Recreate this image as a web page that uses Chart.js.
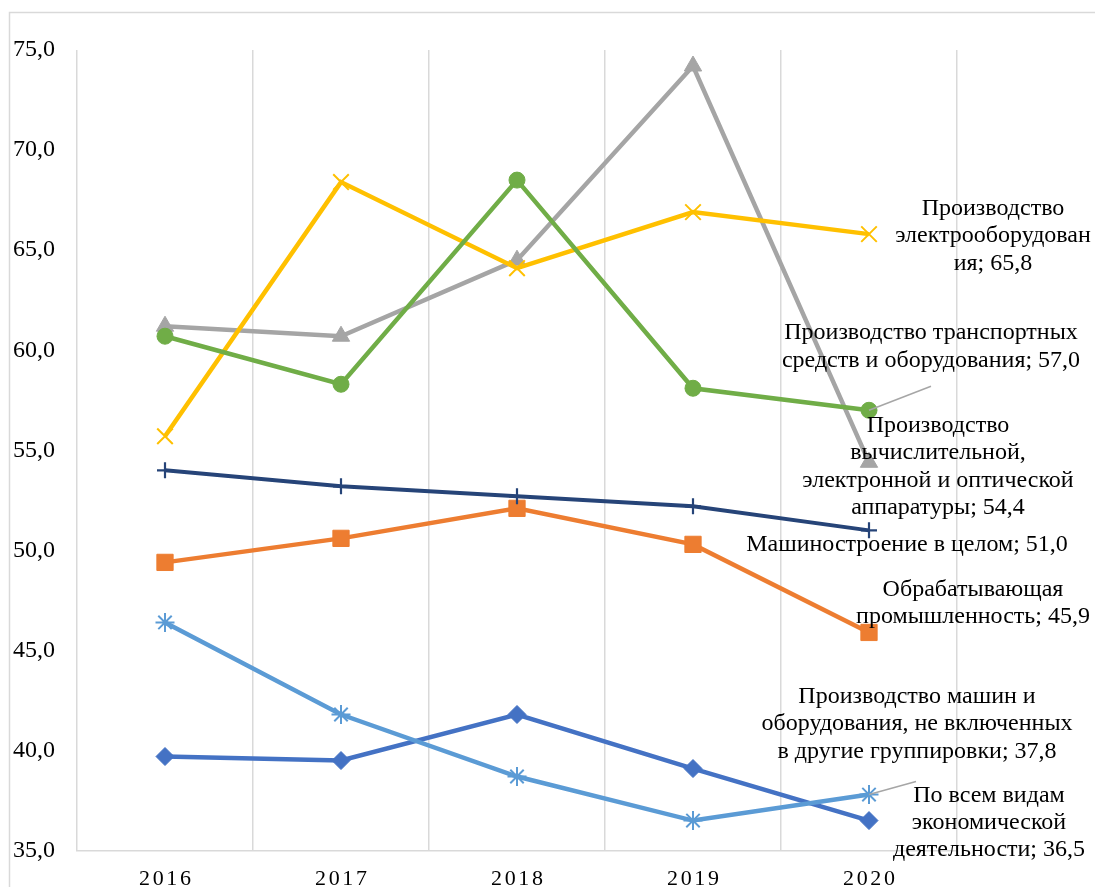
<!DOCTYPE html>
<html>
<head>
<meta charset="utf-8">
<script src="https://cdn.jsdelivr.net/npm/chart.js@4/dist/chart.umd.min.js"></script>
<style>
  html, body { margin: 0; padding: 0; background: #ffffff; }
  #wrap { width: 1095px; height: 887px; }
</style>
</head>
<body>
<div id="wrap"><canvas id="c" width="1095" height="887"></canvas></div>
<script>
// ---- data ----
const categories = ['2016', '2017', '2018', '2019', '2020'];

const seriesNames = [
  'По всем видам экономической деятельности',
  'Обрабатывающая промышленность',
  'Производство вычислительной, электронной и оптической аппаратуры',
  'Производство электрооборудования',
  'Производство машин и оборудования, не включенных в другие группировки',
  'Производство транспортных средств и оборудования',
  'Машиностроение в целом'
];

const allActivities   = [39.7, 39.5, 41.8, 39.1, 36.5];
const manufacturing   = [49.4, 50.6, 52.1, 50.3, 45.9];
const computers       = [61.2, 60.7, 64.5, 74.2, 54.4];
const electrical      = [55.7, 68.4, 64.1, 66.9, 65.8];
const machinery       = [46.4, 41.8, 38.7, 36.5, 37.8];
const transport       = [60.7, 58.3, 68.5, 58.1, 57.0];
const engineering     = [54.0, 53.2, 52.7, 52.2, 51.0];

// wrapped label pieces (as in the original data labels)
const labelWraps = [
  ['По всем видам', 'экономической', 'деятельности'],
  ['Обрабатывающая', 'промышленность'],
  ['Производство', 'вычислительной,', 'электронной и оптической', 'аппаратуры'],
  ['Производство', 'электрооборудован', 'ия'],
  ['Производство машин и', 'оборудования, не включенных', 'в другие группировки'],
  ['Производство транспортных', 'средств и оборудования'],
  ['Машиностроение в целом']
];

const yMin = 35, yMax = 75, yStep = 5;

// ---- styles ----
const seriesData = [allActivities, manufacturing, computers, electrical, machinery, transport, engineering];
const colors = ['#4472C4', '#ED7D31', '#A5A5A5', '#FFC000', '#5B9BD5', '#70AD47', '#264478'];
const pointStyles = ['rectRot', 'rect', 'triangle', 'crossRot', 'star', 'circle', 'cross'];
const pointRadii = [9, 11.5, 10, 11, 9.5, 8, 8];
const pointBorders = [1, 1, 1, 2, 2, 1, 2.2];
const lineWidths = [4.5, 4.5, 4.5, 4.5, 4.5, 4.5, 4];
// label block centre offset from last point, in px
const labelOffsets = [[120, 2], [104, -29.5], [69, 4.5], [124, 2], [48, -70.5], [62, -63.5], [38, 14]];
// leader line end offsets (null = none)
const leaderOffsets = [null, null, null, null, [47, -13], [62, -24], null];

const fmt = v => v.toFixed(1).replace('.', ',');
const SERIF = '"Liberation Serif", "Times New Roman", serif';

const datasets = seriesData.map((d, i) => ({
  label: seriesNames[i],
  data: d,
  borderColor: colors[i],
  backgroundColor: colors[i],
  borderWidth: lineWidths[i],
  pointStyle: pointStyles[i],
  pointRadius: pointRadii[i],
  pointHoverRadius: pointRadii[i],
  pointBorderWidth: pointBorders[i],
  pointBackgroundColor: colors[i],
  pointBorderColor: colors[i],
  tension: 0,
  order: seriesData.length - 1 - i
}));

const framePlugin = {
  id: 'frame',
  beforeDraw(chart) {
    const ctx = chart.ctx;
    ctx.save();
    ctx.fillStyle = '#ffffff';
    ctx.fillRect(0, 0, chart.width, chart.height);
    ctx.strokeStyle = '#d9d9d9';
    ctx.lineWidth = 1.5;
    ctx.strokeRect(9.5, 12.5, chart.width + 20, chart.height + 20);
    ctx.restore();
  }
};

const xLabelsPlugin = {
  id: 'xLabels',
  afterDraw(chart) {
    const ctx = chart.ctx;
    const xs = chart.scales.x;
    const ls = 2.7;
    ctx.save();
    ctx.font = '22px ' + SERIF;
    ctx.fillStyle = '#000000';
    ctx.textAlign = 'center';
    ctx.textBaseline = 'middle';
    if ('letterSpacing' in ctx) ctx.letterSpacing = ls + 'px';
    categories.forEach((c, i) => {
      const x = xs.getPixelForValue(i);
      ctx.fillText(c, x + ls / 2, 879);
    });
    ctx.restore();
  }
};

const dataLabelPlugin = {
  id: 'dataLabels',
  afterDatasetsDraw(chart) {
    const ctx = chart.ctx;
    ctx.save();
    chart.data.datasets.forEach((ds, i) => {
      const meta = chart.getDatasetMeta(i);
      const last = meta.data[meta.data.length - 1];
      const px = last.x, py = last.y;
      const lead = leaderOffsets[i];
      if (lead) {
        ctx.strokeStyle = '#a6a6a6';
        ctx.lineWidth = 1.5;
        ctx.beginPath();
        ctx.moveTo(px, py);
        ctx.lineTo(px + lead[0], py + lead[1]);
        ctx.stroke();
      }
    });
    ctx.font = '24px ' + SERIF;
    ctx.fillStyle = '#000000';
    ctx.textAlign = 'center';
    ctx.textBaseline = 'middle';
    const lh = 27.3;
    chart.data.datasets.forEach((ds, i) => {
      const meta = chart.getDatasetMeta(i);
      const last = meta.data[meta.data.length - 1];
      const val = ds.data[ds.data.length - 1];
      const lines = labelWraps[i].slice();
      lines[lines.length - 1] = lines[lines.length - 1] + '; ' + fmt(val);
      const cx = last.x + labelOffsets[i][0];
      const cy = last.y + labelOffsets[i][1];
      const top = cy - (lines.length - 1) * lh / 2;
      lines.forEach((t, k) => ctx.fillText(t, cx, top + k * lh));
    });
    ctx.restore();
  }
};

new Chart(document.getElementById('c'), {
  type: 'line',
  data: { labels: categories, datasets },
  options: {
    responsive: false,
    animation: false,
    devicePixelRatio: 1,
    layout: { padding: { left: 0, right: 138, top: 50, bottom: 0 } },
    plugins: { legend: { display: false }, tooltip: { enabled: false } },
    scales: {
      x: {
        offset: true,
        grid: { display: true, color: '#d9d9d9', lineWidth: 1.5, drawTicks: false, offset: true },
        border: { display: true, color: '#d9d9d9', width: 1.5 },
        ticks: { display: false },
        afterFit(s) { s.height = 36; }
      },
      y: {
        min: yMin,
        max: yMax,
        grid: { display: false, drawTicks: false },
        border: { display: false },
        ticks: {
          stepSize: yStep,
          padding: 22,
          color: '#000000',
          font: { family: SERIF, size: 24 },
          callback: v => fmt(v)
        },
        afterFit(s) { s.width = 77; }
      }
    }
  },
  plugins: [framePlugin, xLabelsPlugin, dataLabelPlugin]
});
</script>
</body>
</html>
